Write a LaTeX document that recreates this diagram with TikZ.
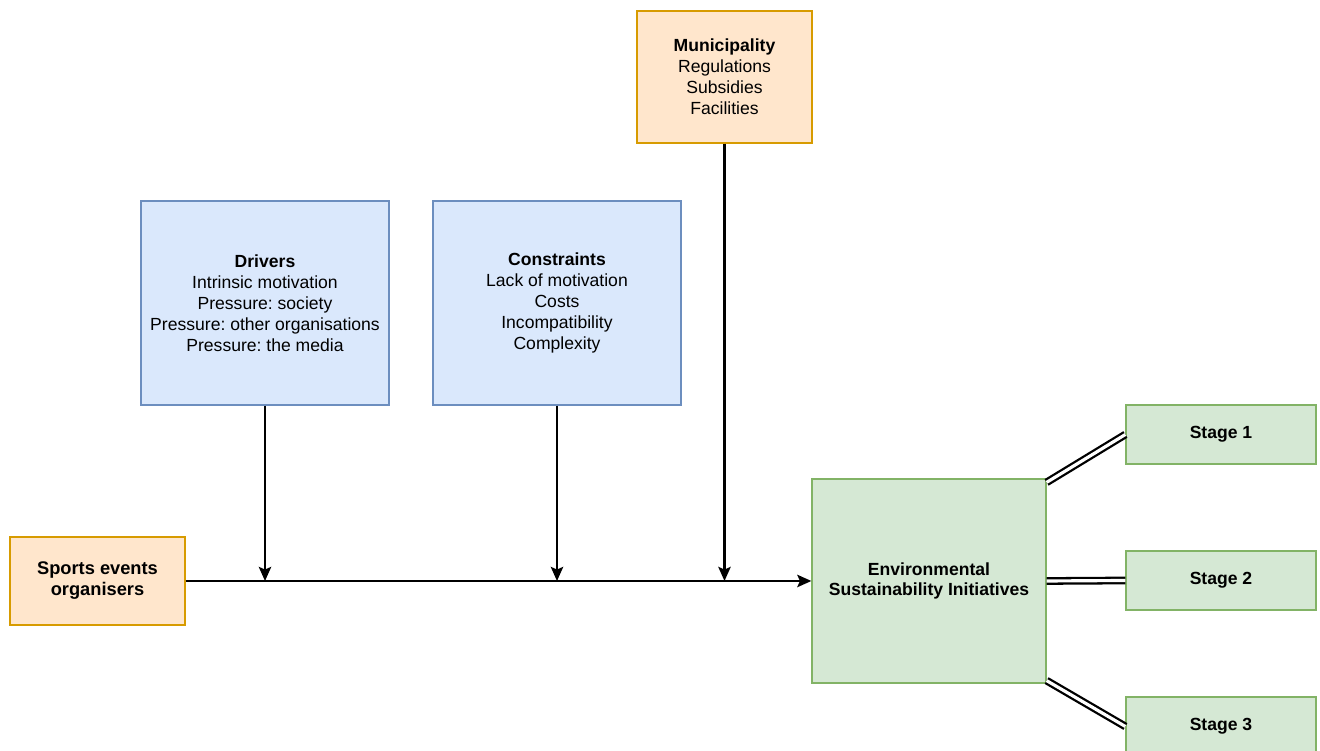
\documentclass[tikz,border=0pt]{standalone}
\usepackage{fontspec}
\setmainfont{Liberation Sans}
\frenchspacing
\usetikzlibrary{positioning, calc, arrows.meta}
\definecolor{orgfill}{HTML}{FFE6CC}
\definecolor{orgline}{HTML}{D79B00}
\definecolor{bluefill}{HTML}{DAE8FC}
\definecolor{blueline}{HTML}{6C8EBF}
\definecolor{greenfill}{HTML}{D5E8D4}
\definecolor{greenline}{HTML}{82B366}

\begin{document}
\begin{tikzpicture}[>={Stealth[length=8pt,width=7pt,inset=1.5pt]},
  font=\fontsize{10}{11.9}\selectfont,
  orgbox/.style={draw=orgline, fill=orgfill, rectangle, align=center, line width=.7pt, minimum width=3.5cm},
  bluebox/.style={draw=blueline, fill=bluefill, rectangle, align=center, line width=.7pt, minimum width=4.96cm, minimum height=4.08cm},
  greenbox/.style={draw=greenline, fill=greenfill, rectangle, align=center, line width=.7pt, font=\fontsize{10}{11.9}\selectfont\bfseries},
  stagebox/.style={greenbox, minimum width=3.8cm, minimum height=1.18cm},
  flow/.style={->, draw=black, line width=1.4pt},
  link/.style={-, draw=black, double=white, double distance=1.8pt, line width=1.3pt}]
  \useasboundingbox (0,0) rectangle (26.4,15.02);

  \node[orgbox, minimum height=1.76cm, font=\fontsize{10.4}{11.9}\selectfont\bfseries] (org) at (1.95,3.4) {Sports events\\organisers};
  \node[bluebox] (drivers) at (5.3,8.96) {\textbf{Drivers}\\Intrinsic motivation\\Pressure: society\\Pressure: other organisations\\Pressure: the media};
  \node[bluebox] (constr) at (11.14,8.96) {\textbf{Constraints}\\Lack of motivation\\Costs\\Incompatibility\\Complexity};
  \node[orgbox, minimum height=2.64cm] (muni) at (14.49,13.48) {\textbf{Municipality}\\Regulations\\Subsidies\\Facilities};
  \node[greenbox, minimum width=4.68cm, minimum height=4.08cm] (esi) at (18.58,3.4) {Environmental\\Sustainability Initiatives};
  \node[stagebox] (stage1) at (24.42,6.33) {Stage 1};
  \node[stagebox] (stage2) at (24.42,3.41) {Stage 2};
  \node[stagebox] (stage3) at (24.42,0.49) {Stage 3};

  \path
    (org.east) edge[flow] (esi.west)
    (drivers.south) edge[flow] (drivers.south |- org.east)
    (constr.south) edge[flow] (constr.south |- org.east)
    (muni.south) edge[flow] (muni.south |- org.east);
  \path
    ([yshift=-.08cm]esi.north east) edge[link] (stage1.west)
    (esi.east) edge[link] (stage2.west)
    ([yshift=.06cm]esi.south east) edge[link] (stage3.west);

\end{tikzpicture}
\end{document}
